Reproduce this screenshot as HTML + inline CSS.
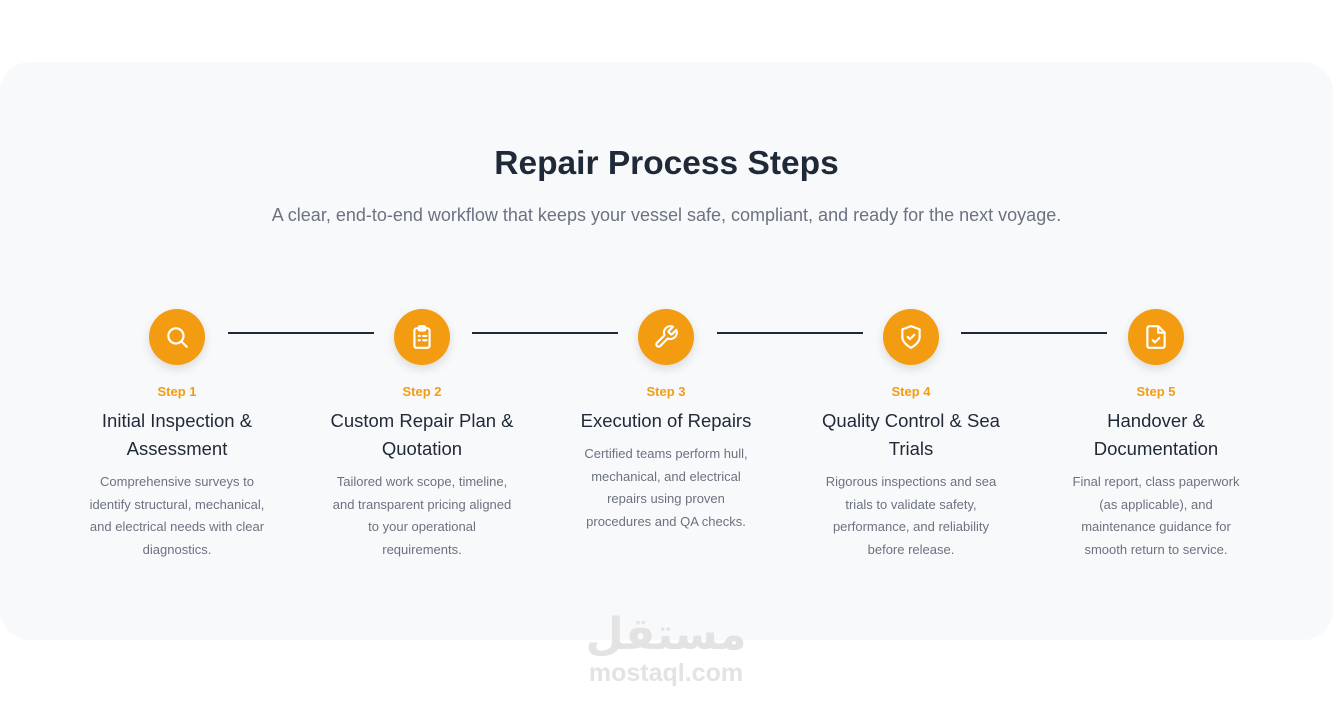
<!DOCTYPE html>
<html><head><meta charset="utf-8"><style>
body{margin:0;width:1333px;height:702px;background:#fff;font-family:"Liberation Sans",sans-serif;position:relative;overflow:hidden}
.card{position:absolute;left:0;top:62px;width:1333px;height:578px;background:#f8f9fb;border-radius:30px}
h1{position:absolute;top:144px;left:0;width:1333px;text-align:center;margin:0;font-size:33.5px;font-weight:bold;color:#1f2937;line-height:40px}
.sub{position:absolute;top:204px;left:0;width:1333px;text-align:center;font-size:18px;color:#6b7280;line-height:22px}
.line{position:absolute;top:332px;height:2px;background:#1f2937;width:146px}
.col{position:absolute;top:309px;width:200px;text-align:center}
.circ{width:56px;height:56px;border-radius:50%;background:#f39c12;margin:0 auto;box-shadow:0 4px 10px rgba(0,0,0,.12);display:flex;align-items:center;justify-content:center}
.step{margin-top:19px;font-size:13px;font-weight:bold;color:#f39c12;line-height:16px}
.t{margin-top:7px;font-size:18.5px;color:#1f2937;line-height:28px}
.d{margin:8px auto 0;width:186px;font-size:13px;color:#6b7280;line-height:22.7px}
.wm{position:absolute;left:585px;top:610px;width:162px;text-align:center;color:#e3e3e3;font-weight:bold}
</style></head><body>
<div class="card"></div>
<h1>Repair Process Steps</h1>
<div class="sub">A clear, end-to-end workflow that keeps your vessel safe, compliant, and ready for the next voyage.</div>
<div class="line" style="left:228px"></div>
<div class="line" style="left:472px"></div>
<div class="line" style="left:717px"></div>
<div class="line" style="left:961px"></div>

<div class="col" style="left:77px"><div class="circ"><svg width="26" height="26" viewBox="0 0 24 24" fill="none" stroke="#fff" stroke-width="2" stroke-linecap="round"><circle cx="11" cy="11" r="7"/><path d="M16 16l5 5"/></svg></div>
<div class="step">Step 1</div><div class="t">Initial Inspection &amp;<br>Assessment</div><div class="d">Comprehensive surveys to identify structural, mechanical, and electrical needs with clear diagnostics.</div></div>

<div class="col" style="left:322px"><div class="circ"><svg width="26" height="26" viewBox="0 0 24 24" fill="none" stroke="#fff" stroke-width="2" stroke-linecap="round"><rect x="5" y="4" width="14" height="18" rx="2"/><rect x="9" y="2" width="6" height="4" rx="1"/><path d="M9 11h1M13 11h3M9 15h1M13 15h3"/></svg></div>
<div class="step">Step 2</div><div class="t">Custom Repair Plan &amp;<br>Quotation</div><div class="d">Tailored work scope, timeline, and transparent pricing aligned to your operational requirements.</div></div>

<div class="col" style="left:566px"><div class="circ"><svg width="26" height="26" viewBox="0 0 24 24" fill="none" stroke="#fff" stroke-width="2" stroke-linecap="round" stroke-linejoin="round"><path d="M14.7 6.3a1 1 0 000 1.4l1.6 1.6a1 1 0 001.4 0l3.8-3.8a6 6 0 01-7.9 7.9l-6.9 6.9a2.1 2.1 0 01-3-3l6.9-6.9a6 6 0 017.9-7.9l-3.8 3.8z"/></svg></div>
<div class="step">Step 3</div><div class="t">Execution of Repairs</div><div class="d">Certified teams perform hull, mechanical, and electrical repairs using proven procedures and QA checks.</div></div>

<div class="col" style="left:811px"><div class="circ"><svg width="26" height="26" viewBox="0 0 24 24" fill="none" stroke="#fff" stroke-width="2" stroke-linecap="round" stroke-linejoin="round"><path d="M12 22s8-4 8-10V5l-8-3-8 3v7c0 6 8 10 8 10z"/><path d="M9 12l2 2 4-4"/></svg></div>
<div class="step">Step 4</div><div class="t">Quality Control &amp; Sea<br>Trials</div><div class="d">Rigorous inspections and sea trials to validate safety, performance, and reliability before release.</div></div>

<div class="col" style="left:1056px"><div class="circ"><svg width="26" height="26" viewBox="0 0 24 24" fill="none" stroke="#fff" stroke-width="2" stroke-linecap="round" stroke-linejoin="round"><path d="M14 2H6a2 2 0 00-2 2v16a2 2 0 002 2h12a2 2 0 002-2V8z"/><path d="M14 2v6h6"/><path d="M9 15l2 2 4-4"/></svg></div>
<div class="step">Step 5</div><div class="t">Handover &amp;<br>Documentation</div><div class="d">Final report, class paperwork (as applicable), and maintenance guidance for smooth return to service.</div></div>

<div class="wm"><div style="font-size:44px;line-height:50px;font-family:'DejaVu Sans',sans-serif">مستقل</div><div style="font-size:25px;line-height:26px">mostaql.com</div></div>
</body></html>
